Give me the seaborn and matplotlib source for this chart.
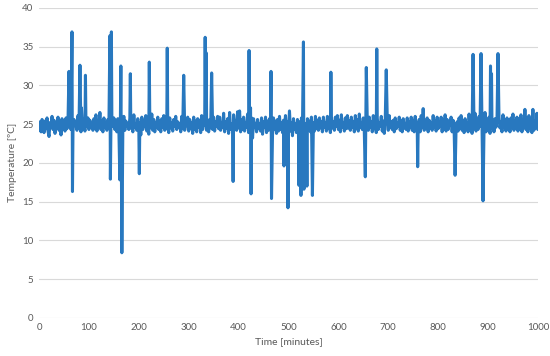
import numpy as np
import pandas as pd
import matplotlib
matplotlib.use('Agg')
import matplotlib.pyplot as plt
import seaborn as sns

# baseline readings, one every 2 minutes (0 .. 1000)
base_step = 2
base_temp = [
    24.2, 25.3, 24.0, 25.6, 24.7, 23.9, 25.4, 24.4, 25.8, 24.1,
    23.4, 25.2, 24.6, 26.0, 24.3, 25.5, 23.8, 25.1, 24.7, 25.9,
    24.2, 25.4, 23.6, 25.7, 24.5, 25.0, 24.1, 25.8, 24.4, 25.3,
    24.6, 25.9, 24.3, 25.2, 24.0, 25.6, 24.8, 25.1, 24.2, 26.1,
    24.5, 25.3, 24.0, 25.9, 24.4, 25.6, 24.1, 25.2, 24.7, 25.8,
    24.3, 25.5, 24.6, 25.0, 24.2, 25.7, 24.4, 26.2, 24.1, 25.3,
    24.8, 26.5, 24.3, 25.4, 24.0, 25.8, 24.6, 25.1, 24.2, 25.6,
    24.5, 25.9, 24.1, 25.3, 24.7, 25.8, 24.3, 25.5, 24.0, 25.7,
    24.4, 25.2, 23.7, 25.6, 24.6, 26.0, 24.2, 25.4, 24.8, 25.1,
    24.3, 25.8, 24.5, 25.3, 24.0, 26.2, 24.6, 25.0, 24.2, 25.7,
    24.4, 25.2, 23.6, 25.9, 24.3, 25.5, 24.7, 26.1, 24.1, 25.4,
    23.7, 25.8, 24.5, 26.3, 24.2, 25.6, 24.0, 25.2, 24.6, 25.9,
    24.3, 25.4, 24.0, 25.7, 24.6, 26.1, 24.2, 25.5, 24.4, 25.1,
    23.9, 25.8, 24.5, 25.2, 24.1, 25.6, 24.7, 26.0, 24.3, 25.3,
    24.6, 25.1, 24.0, 26.0, 24.4, 25.5, 24.2, 25.3, 24.8, 25.9,
    24.1, 25.6, 24.5, 25.2, 23.8, 25.9, 24.3, 25.4, 24.0, 25.7,
    24.6, 25.5, 23.9, 26.1, 24.3, 25.2, 24.8, 25.8, 24.2, 25.4,
    24.0, 25.6, 24.5, 25.1, 24.3, 25.9, 24.1, 25.3, 24.7, 26.0,
    24.4, 25.9, 24.2, 25.1, 24.6, 26.4, 24.0, 25.3, 24.5, 25.7,
    23.8, 26.5, 24.3, 25.0, 24.1, 26.2, 24.6, 25.4, 24.2, 26.6,
    24.5, 26.7, 24.0, 25.6, 24.3, 25.9, 24.1, 25.2, 24.6, 26.3,
    23.9, 25.5, 24.4, 25.8, 23.2, 25.7, 24.6, 25.1, 24.0, 25.6,
    24.4, 25.0, 24.1, 25.8, 23.7, 25.3, 24.6, 25.9, 23.9, 25.4,
    24.2, 25.7, 24.5, 25.1, 23.6, 25.8, 24.3, 25.4, 23.8, 25.6,
    24.1, 26.0, 24.3, 25.2, 23.9, 25.5, 24.4, 26.1, 23.8, 25.3,
    24.0, 26.7, 24.1, 25.2, 23.5, 25.7, 24.3, 25.0, 23.9, 25.6,
    24.2, 25.3, 23.9, 25.8, 24.4, 25.6, 24.0, 25.1, 23.9, 25.7,
    24.3, 25.4, 24.0, 25.9, 24.6, 25.2, 24.1, 26.0, 24.4, 25.5,
    24.2, 25.8, 24.5, 25.3, 24.0, 25.9, 24.6, 25.2, 24.1, 26.0,
    24.4, 25.6, 23.9, 26.0, 24.5, 25.3, 24.2, 25.9, 24.7, 26.1,
    24.3, 25.5, 24.0, 26.2, 24.6, 25.2, 24.1, 25.8, 24.4, 26.1,
    24.5, 25.4, 24.2, 25.9, 24.6, 25.3, 24.0, 26.1, 24.4, 25.6,
    24.1, 26.3, 24.6, 25.2, 24.3, 25.8, 24.0, 26.2, 24.5, 25.4,
    24.2, 25.9, 24.6, 25.3, 24.0, 26.1, 24.4, 25.6, 23.9, 25.8,
    24.3, 25.2, 24.7, 26.0, 24.1, 25.4, 23.8, 25.7, 24.5, 25.9,
    24.2, 26.1, 24.6, 25.3, 24.3, 25.5, 24.0, 25.8, 24.4, 25.2,
    24.7, 25.9, 24.2, 25.4, 24.0, 25.7, 24.5, 25.1, 24.3, 25.8,
    24.1, 25.3, 24.6, 25.9, 24.2, 25.5, 24.0, 26.0, 24.5, 25.2,
    24.3, 25.6, 24.0, 26.1, 24.6, 27.0, 24.2, 25.3, 24.4, 25.8,
    24.0, 25.5, 24.5, 25.2, 24.2, 26.1, 24.6, 25.4, 24.1, 25.9,
    24.4, 25.3, 24.7, 25.9, 24.0, 25.5, 24.3, 26.2, 24.1, 25.6,
    24.3, 25.2, 24.8, 25.9, 24.0, 25.5, 24.4, 26.0, 24.6, 25.3,
    24.1, 25.8, 24.5, 26.1, 24.2, 25.4, 23.9, 25.7, 24.6, 25.2,
    24.0, 26.3, 24.4, 25.6, 23.8, 25.9, 24.5, 26.4, 24.1, 25.5,
    24.3, 26.0, 24.7, 26.9, 24.2, 25.8, 24.4, 26.5, 24.0, 25.6,
    24.4, 25.9, 23.8, 26.1, 24.5, 25.3, 24.0, 25.7, 24.6, 25.4,
    24.2, 25.9, 24.5, 25.3, 24.0, 26.2, 24.6, 25.5, 24.1, 25.8,
    24.3, 25.6, 24.0, 25.8, 24.6, 26.3, 24.2, 25.4, 24.5, 25.9,
    24.1, 25.7, 24.4, 26.2, 24.0, 25.5, 24.6, 26.9, 24.3, 25.8,
    24.0, 26.1, 24.5, 25.7, 23.9, 26.9, 24.2, 25.4, 24.5, 26.4,
    24.3,
]

# single-sample spikes
spike_time = [60, 66, 67, 82, 85, 93, 142, 143, 145, 162, 164, 166, 167,
              183, 201, 221, 257, 290, 333, 335, 346, 389, 421, 424, 425,
              465, 466, 491, 499, 521, 523, 525, 527, 530, 531, 533, 535,
              537, 539, 548, 585, 654, 656, 677, 696, 759, 834, 870, 886,
              890, 905, 907, 920]
spike_temp = [31.8, 36.9, 16.3, 32.6, 27.1, 31.3, 36.4, 17.9, 36.9, 17.8, 32.5, 8.4, 17.0,
              31.5, 18.6, 33.0, 34.8, 31.3, 36.2, 34.2, 31.6, 17.6, 34.5, 27.1, 16.0,
              31.8, 15.4, 19.6, 14.2, 17.1, 24.8, 15.8, 17.0, 35.6, 16.6, 24.5, 17.3,
              17.0, 24.2, 15.8, 31.7, 18.2, 32.3, 34.7, 32.0, 19.5, 18.4, 34.0, 34.1,
              15.1, 32.5, 31.5, 34.1]

base = pd.DataFrame({'time': np.arange(len(base_temp)) * base_step, 'temp': base_temp})
spikes = pd.DataFrame({'time': spike_time, 'temp': spike_temp})
df = pd.concat([spikes, base]).drop_duplicates('time', keep='first').sort_values('time')

sns.set_style('white')
plt.rcParams['font.family'] = ['Lato', 'DejaVu Sans']

fig = plt.figure(figsize=(5.5, 3.56), dpi=100)
ax = fig.add_axes([0.071, 0.107, 0.907, 0.871])

sns.lineplot(data=df, x='time', y='temp', ax=ax, color='#2878BF', linewidth=2.2,
             sort=False, estimator=None)

ax.set_xlim(0, 1000)
ax.set_ylim(0, 40)
ax.set_xticks(np.arange(0, 1001, 100))
ax.set_yticks(np.arange(0, 41, 5))
ax.grid(axis='y', color='#D9D9D9', linewidth=0.8)
ax.set_axisbelow(True)
for s in ax.spines.values():
    s.set_visible(False)
ax.tick_params(length=0, labelsize=7, labelcolor='#595959', pad=4)
ax.set_xlabel('Time [minutes]', fontsize=7.5, color='#595959', labelpad=3)
ax.set_ylabel('Temperature [ºC]', fontsize=7.5, color='#595959', labelpad=4)

fig.savefig('out.png', dpi=100)
